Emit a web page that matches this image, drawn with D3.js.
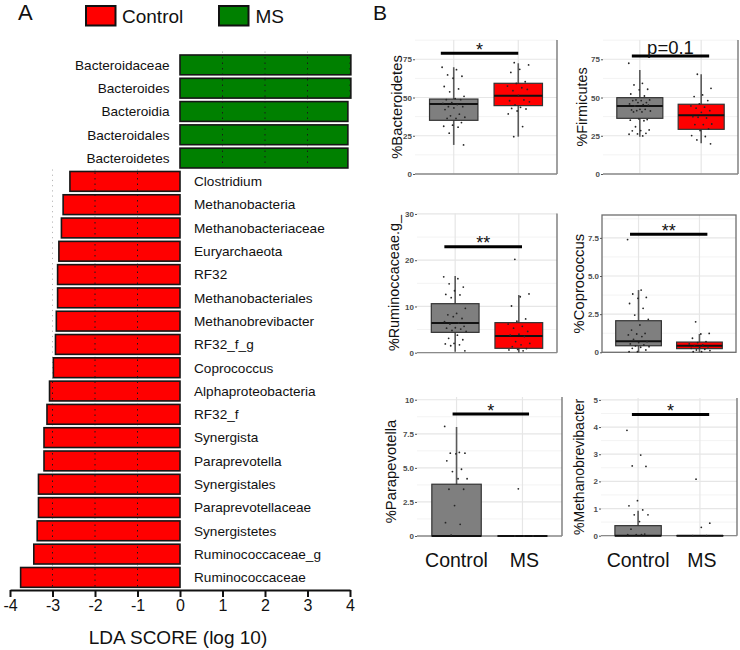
<!DOCTYPE html>
<html>
<head>
<meta charset="utf-8">
<script src="https://d3js.org/d3.v7.min.js"></script>
<style>
  body { margin: 0; background: #fff; }
  svg { display: block; font-family: "Liberation Sans", Arial, sans-serif; }
</style>
</head>
<body>
<div id="chart"></div>
<script>
// ---- panel A data (LEfSe LDA scores) ----
var ldaTaxa = ["Bacteroidaceae", "Bacteroides", "Bacteroidia", "Bacteroidales", "Bacteroidetes",
  "Clostridium", "Methanobacteria", "Methanobacteriaceae", "Euryarchaeota", "RF32",
  "Methanobacteriales", "Methanobrevibacter", "RF32_f_g", "Coprococcus", "Alphaproteobacteria",
  "RF32_f", "Synergista", "Paraprevotella", "Synergistales", "Paraprevotellaceae",
  "Synergistetes", "Ruminococcaceae_g", "Ruminococcaceae"];
var ldaScores = [4.02, 4.02, 3.95, 3.95, 3.95,
  -2.59, -2.75, -2.79, -2.85, -2.88,
  -2.88, -2.91, -2.93, -2.98, -3.07,
  -3.13, -3.20, -3.20, -3.33, -3.33,
  -3.36, -3.44, -3.75];
var ldaTicks = [-4, -3, -2, -1, 0, 1, 2, 3, 4];

var groups = ["Control", "MS"];

// ---- panel B data ----
var panelTitles = ["%Bacteroidetes", "%Firmicutes", "%Ruminoccaceae.g_", "%Coprococcus", "%Parapevotella", "%Methanobrevibacter"];
var panelYMax = [87.6, 87.6, 30.1, 9.0, 10.2, 5.07];
var panelTicks = [[0, 25, 50, 75], [0, 25, 50, 75], [0, 10, 20, 30], [0, 2.5, 5, 7.5], [0, 2.5, 5, 7.5, 10], [0, 1, 2, 3, 4, 5]];
var panelTickLabels = [["0", "25", "50", "75"], ["0", "25", "50", "75"], ["0", "10", "20", "30"],
  ["0", "2.5", "5.0", "7.5"], ["0", "2.5", "5.0", "7.5", "10"], ["0", "1", "2", "3", "4", "5"]];

// box stats: [lower whisker, q1, median, q3, upper whisker]
var controlStats = [[19.0, 35.1, 45.8, 49.0, 69.8], [24.4, 36.4, 44.5, 49.9, 68.0], [0.2, 4.4, 6.4, 10.6, 16.6],
  [0, 0.43, 0.72, 2.07, 4.08], [0, 0, 0, 3.8, 8.0], [0, 0, 0, 0.37, 0.92]];
var msStats = [[24.4, 44.7, 51.2, 59.3, 72.4], [20.1, 29.2, 38.4, 45.6, 65.2], [0, 0.95, 3.6, 6.5, 12.5],
  [0, 0.24, 0.43, 0.67, 1.2], [0, 0, 0, 0, 0], [0, 0, 0, 0, 0]];

var controlPoints = [
  [69.8, 68.2, 64.8, 63.9, 62.6, 57.2, 55.6, 53.7, 50.8, 49.3, 48.6, 48.6, 46.7, 46.2, 45.4, 44.0, 44.0, 43.2, 42.1, 39.1, 38.0, 37.1, 36.3, 36.3, 33.6, 31.9, 31.2, 30.6, 26.7, 19.0],
  [72.4, 59.3, 58.2, 55.4, 55.0, 52.3, 51.0, 48.4, 48.4, 48.0, 48.0, 46.7, 46.7, 45.8, 45.4, 44.5, 45.0, 42.3, 41.9, 42.3, 41.4, 41.2, 40.6, 40.6, 35.6, 36.1, 35.2, 34.8, 30.9, 28.8, 28.4, 28.2, 26.6, 26.2, 26.0, 24.9],
  [16.4, 16.0, 14.9, 14.2, 13.4, 12.6, 12.5, 11.9, 9.6, 8.5, 8.2, 7.4, 7.8, 6.7, 6.4, 6.2, 5.7, 5.4, 5.3, 5.1, 4.8, 4.6, 3.8, 3.1, 2.8, 2.0, 1.9, 1.7, 1.5, 0.4],
  [7.39, 4.08, 3.82, 3.6, 3.54, 3.2, 2.88, 2.44, 2.16, 1.79, 1.46, 1.24, 1.2, 1.14, 1.03, 0.85, 0.7, 0.64, 0.55, 0.48, 0.42, 0.37, 0.33, 0.26, 0.15, 0.04, 0.04],
  [8.04, 6.13, 6.08, 6.08, 6.03, 5.52, 4.9, 4.73, 4.2, 4.2, 3.43, 3.43, 2.23, 0.98, 0.86, 0.07],
  [3.88, 2.97, 2.57, 2.55, 1.29, 1.1, 0.95, 0.77, 0.77, 0.52, 0.24, 0.06, 0.04, 0.04, 0.04]
];
var msPoints = [
  [72.8, 71.3, 68.4, 66.4, 60.3, 59.2, 57.5, 56.4, 54.5, 55.3, 51.4, 47.9, 48.4, 45.1, 47.2, 43.6, 42.9, 42.5, 41.2, 39.3, 31.0, 24.4],
  [65.2, 56.0, 51.7, 50.6, 48.0, 45.8, 44.5, 43.7, 43.0, 41.4, 40.3, 37.5, 36.6, 37.1, 32.7, 32.3, 32.3, 29.5, 28.4, 25.1, 24.5, 22.3, 19.7],
  [20.2, 12.7, 12.1, 10.1, 7.3, 6.8, 6.2, 5.7, 5.3, 4.6, 4.0, 3.8, 3.5, 2.4, 2.0, 1.7, 1.3, 0.9, 0.7, 0.6, 0.4],
  [2.0, 1.24, 1.2, 0.92, 0.7, 0.64, 0.55, 0.48, 0.44, 0.37, 0.33, 0.26, 0.2, 0.15, 0.11, 0.04, 0.04],
  [3.46, 0, 0, 0],
  [2.08, 0.46, 0.31, 0, 0]
];

var sigLabels = ["*", "p=0.1", "**", "**", "*", "*"];
var sigHeights = [78.9, 77.2, 22.9, 7.74, 8.95, 4.46];

// ---- layout ----
var panelRects = [
  {x0: 415, x1: 557, y0: 40, y1: 174, frame: false},
  {x0: 603, x1: 738, y0: 40, y1: 174, frame: false},
  {x0: 417, x1: 557, y0: 213.5, y1: 352.7, frame: false},
  {x0: 602, x1: 736, y0: 215, y1: 352.3, frame: true},
  {x0: 417, x1: 562, y0: 397, y1: 536, frame: false},
  {x0: 601, x1: 737, y0: 398, y1: 535.7, frame: false}
];
var sigSpans = [[0.80, 2.0], [0.87, 2.13], [0.83, 2.05], [0.86, 2.13], [0.94, 2.10], [0.90, 2.15]];
var titleX = [396.7, 581.7, 394.3, 579, 390.7, 579.3];
var titleFont = [14.8, 14.4, 14.4, 14.8, 14.8, 14];
var groupFill = ["#7f7f7f", "#ff0000"];

var svg = d3.select("#chart").append("svg")
  .attr("width", 740)
  .attr("height", 650);

// ================= Panel A =================
var ldaX = d3.scaleLinear().domain([-4, 4]).range([10, 350]);
var ldaY = d3.scaleBand().domain(ldaTaxa).range([51.5, 590.8]).padding(0.15);

var defs = svg.append("defs");
defs.append("clipPath").attr("id", "barClip")
  .selectAll("rect")
  .data(ldaTaxa)
  .enter()
  .append("rect")
    .attr("x", function(d, i) {return ldaX(Math.min(0, ldaScores[i]));})
    .attr("y", function(d) {return ldaY(d);})
    .attr("width", function(d, i) {return Math.abs(ldaX(ldaScores[i]) - ldaX(0));})
    .attr("height", ldaY.bandwidth());

var gA = svg.append("g");

var firstRed = ldaY(ldaTaxa[ldaScores.findIndex(function(v) {return v < 0;})]);
var lastGreen = ldaY(ldaTaxa[ldaScores.findIndex(function(v) {return v < 0;}) - 1]) + ldaY.bandwidth();

// faint grid behind bars
gA.selectAll(".gridBack")
  .data(ldaTicks.filter(function(t) {return t !== 0 && t > -4 && t < 4;}))
  .enter()
  .append("line")
    .attr("x1", function(d) {return ldaX(d);})
    .attr("x2", function(d) {return ldaX(d);})
    .attr("y1", function(d) {return d < 0 ? firstRed - 2 : ldaY.range()[0];})
    .attr("y2", function(d) {return d < 0 ? 590 : lastGreen;})
    .style("stroke", "#b8b8b8")
    .style("stroke-width", 1)
    .style("stroke-dasharray", "1.2,4");

gA.selectAll(".ldaBar")
  .data(ldaTaxa)
  .enter()
  .append("rect")
    .attr("x", function(d, i) {return ldaX(Math.min(0, ldaScores[i]));})
    .attr("y", function(d) {return ldaY(d);})
    .attr("width", function(d, i) {return Math.abs(ldaX(ldaScores[i]) - ldaX(0));})
    .attr("height", ldaY.bandwidth())
    .style("fill", function(d, i) {return ldaScores[i] > 0 ? "#008000" : "#ff0000";})
    .style("stroke", "#161616")
    .style("stroke-width", 1.6);

// dark dotted grid visible on top of the bars
gA.append("g")
  .attr("clip-path", "url(#barClip)")
  .selectAll("line")
  .data(ldaTicks.filter(function(t) {return t !== 0;}))
  .enter()
  .append("line")
    .attr("x1", function(d) {return ldaX(d);})
    .attr("x2", function(d) {return ldaX(d);})
    .attr("y1", ldaY.range()[0])
    .attr("y2", 590)
    .style("stroke", "#1a1a1a")
    .style("stroke-width", 1)
    .style("stroke-dasharray", "1.5,4");

gA.selectAll(".ldaLabel")
  .data(ldaTaxa)
  .enter()
  .append("text")
    .attr("x", function(d, i) {return ldaScores[i] > 0 ? ldaX(0) - 10.5 : ldaX(0) + 14;})
    .attr("y", function(d) {return ldaY(d) + ldaY.bandwidth() / 2;})
    .attr("dy", "0.35em")
    .style("text-anchor", function(d, i) {return ldaScores[i] > 0 ? "end" : "start";})
    .style("font-size", "13.6px")
    .style("fill", "#111")
    .text(function(d) {return d;});

var ldaAxis = d3.axisBottom(ldaX)
  .tickValues(ldaTicks)
  .tickFormat(function(d) {return String(d);})
  .tickSize(7)
  .tickSizeOuter(0)
  .tickPadding(3);

var gAxis = gA.append("g")
  .attr("transform", "translate(0,590)")
  .call(ldaAxis);
gAxis.select(".domain").style("stroke", "#111").style("stroke-width", 2.2);
gAxis.selectAll(".tick line").style("stroke", "#111").style("stroke-width", 2);
gAxis.selectAll(".tick text")
  .style("font-size", "16px")
  .style("font-family", "'Liberation Sans', Arial, sans-serif")
  .style("fill", "#111");

gA.append("text")
  .attr("x", 178)
  .attr("y", 643.5)
  .style("text-anchor", "middle")
  .style("font-size", "19px")
  .style("fill", "#111")
  .text("LDA SCORE (log 10)");

// legend
var legend = svg.append("g").attr("class", "legend");
legend.selectAll("rect")
  .data(groups)
  .enter()
  .append("rect")
    .attr("x", function(d, i) {return i === 0 ? 86 : 219;})
    .attr("y", 6)
    .attr("width", 29.5)
    .attr("height", 19.5)
    .style("fill", function(d, i) {return i === 0 ? "#ff0000" : "#008000";})
    .style("stroke", "#111")
    .style("stroke-width", 2);
legend.selectAll("text")
  .data(groups)
  .enter()
  .append("text")
    .attr("x", function(d, i) {return i === 0 ? 122 : 255.5;})
    .attr("y", 22.5)
    .style("font-size", "19px")
    .style("fill", "#111")
    .text(function(d) {return d;});

svg.append("text").attr("x", 18).attr("y", 19.5)
  .style("font-size", "22px").style("fill", "#111").text("A");
svg.append("text").attr("x", 373).attr("y", 19.5)
  .style("font-size", "21px").style("fill", "#111").text("B");

// ================= Panel B =================
function jitter(i) {
  return ((i * 0.618034) % 1 - 0.5) * 0.36;
}

panelTitles.forEach(function(title, p) {
  var r = panelRects[p];
  var x = d3.scaleLinear().domain([0.4, 2.6]).range([r.x0, r.x1]);
  var y = d3.scaleLinear().domain([0, panelYMax[p]]).range([r.y1, r.y0]);
  var g = svg.append("g");
  var ticks = panelTicks[p];

  // minor grid
  var step = ticks[1] - ticks[0];
  var minor = [];
  for (var t = step / 2; t < panelYMax[p]; t += step) minor.push(t);
  g.selectAll(".minor").data(minor).enter().append("line")
    .attr("x1", r.x0).attr("x2", r.x1)
    .attr("y1", function(d) {return y(d);}).attr("y2", function(d) {return y(d);})
    .style("stroke", "#f3f3f3").style("stroke-width", 1);
  g.selectAll(".major").data(ticks).enter().append("line")
    .attr("x1", r.x0).attr("x2", r.x1)
    .attr("y1", function(d) {return y(d);}).attr("y2", function(d) {return y(d);})
    .style("stroke", "#e6e6e6").style("stroke-width", 1.2);
  g.selectAll(".vgrid").data([1, 2]).enter().append("line")
    .attr("x1", function(d) {return x(d);}).attr("x2", function(d) {return x(d);})
    .attr("y1", r.y0).attr("y2", r.y1)
    .style("stroke", "#e6e6e6").style("stroke-width", 1.2);

  // borders
  if (r.frame) {
    g.append("rect").attr("x", r.x0).attr("y", r.y0)
      .attr("width", r.x1 - r.x0).attr("height", r.y1 - r.y0)
      .style("fill", "none").style("stroke", "#6e6e6e").style("stroke-width", 1.3);
  } else {
    g.append("line").attr("x1", r.x1).attr("x2", r.x1).attr("y1", r.y0).attr("y2", r.y1)
      .style("stroke", "#6e6e6e").style("stroke-width", 1.3);
    g.append("line").attr("x1", r.x0).attr("x2", r.x1).attr("y1", r.y1).attr("y2", r.y1)
      .style("stroke", "#8a8a8a").style("stroke-width", 1.3);
  }

  // boxes
  var stats = [controlStats[p], msStats[p]];
  var halfW = 0.375;
  stats.forEach(function(s, k) {
    var cx = k + 1;
    g.append("line")
      .attr("x1", x(cx)).attr("x2", x(cx))
      .attr("y1", y(s[0])).attr("y2", y(s[4]))
      .style("stroke", "#5a5a5a").style("stroke-width", 1.6);
    g.append("rect")
      .attr("x", x(cx - halfW)).attr("y", y(s[3]))
      .attr("width", x(cx + halfW) - x(cx - halfW))
      .attr("height", Math.max(0.01, y(s[1]) - y(s[3])))
      .style("fill", groupFill[k])
      .style("stroke", "#333").style("stroke-width", 1.2);
    g.append("line")
      .attr("x1", x(cx - halfW)).attr("x2", x(cx + halfW))
      .attr("y1", y(s[2])).attr("y2", y(s[2]))
      .style("stroke", "#111").style("stroke-width", 2);
  });

  // jittered points
  [controlPoints[p], msPoints[p]].forEach(function(pts, k) {
    g.selectAll(".pt" + k).data(pts).enter().append("circle")
      .attr("cx", function(d, i) {return x(k + 1 + jitter(i + k * 7));})
      .attr("cy", function(d) {return y(d);})
      .attr("r", 0.9)
      .style("fill", "#262626");
  });

  // significance bar
  var sy = y(sigHeights[p]);
  g.append("line")
    .attr("x1", x(sigSpans[p][0])).attr("x2", x(sigSpans[p][1]))
    .attr("y1", sy).attr("y2", sy)
    .style("stroke", "#000").style("stroke-width", 3);
  var isP = sigLabels[p].indexOf("p") === 0;
  g.append("text")
    .attr("x", x((sigSpans[p][0] + sigSpans[p][1]) / 2))
    .attr("y", isP ? sy - 1.5 : sy + 2.5)
    .style("text-anchor", "middle")
    .style("font-size", isP ? "18.5px" : "18px")
    .style("fill", "#111")
    .text(sigLabels[p]);

  // y axis
  var yAxis = d3.axisLeft(y)
    .tickValues(ticks)
    .tickFormat(function(d, i) {return panelTickLabels[p][i];})
    .tickSize(2)
    .tickPadding(1);
  var ga = g.append("g").attr("transform", "translate(" + r.x0 + ",0)").call(yAxis);
  ga.select(".domain").remove();
  ga.selectAll(".tick line").style("stroke", "#555");
  ga.selectAll(".tick text")
    .style("font-size", "8px")
    .style("font-weight", "bold")
    .style("font-family", "'Liberation Sans', Arial, sans-serif")
    .style("fill", "#4d4d4d");

  // y title
  var ty = (r.y0 + r.y1) / 2 + (p === 4 ? 5 : 0);
  g.append("text")
    .attr("transform", "translate(" + titleX[p] + "," + ty + ") rotate(-90)")
    .attr("dy", "0.35em")
    .style("text-anchor", "middle")
    .style("font-size", titleFont[p] + "px")
    .style("fill", "#111")
    .text(title);

  // x labels on bottom row
  if (p >= 4) {
    g.selectAll(".xlab").data(groups).enter().append("text")
      .attr("x", function(d, i) {return x(i + 1) + (i === 1 ? 2 : 0);})
      .attr("y", 567)
      .style("text-anchor", "middle")
      .style("font-size", "19.5px")
      .style("fill", "#111")
      .text(function(d) {return d;});
  }
});
</script>
</body>
</html>
